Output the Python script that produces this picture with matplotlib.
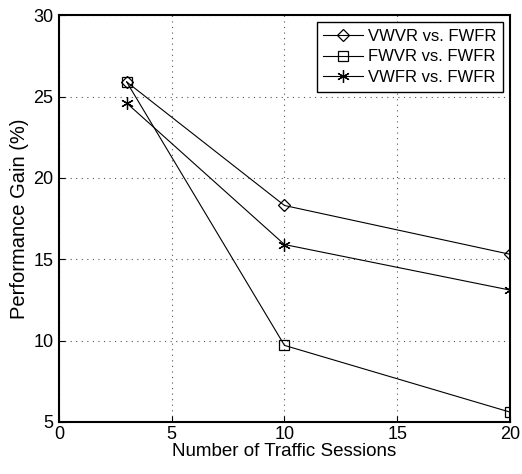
import matplotlib.pyplot as plt

plt.rcParams['font.family'] = ['Liberation Sans', 'DejaVu Sans']

sessions = [3, 10, 20]
vwvr = [25.9, 18.3, 15.3]
fwvr = [25.9, 9.7, 5.6]
vwfr = [24.6, 15.9, 13.1]

fig = plt.figure(figsize=(5.22, 4.74), dpi=100)
ax = fig.add_axes([0.113, 0.110, 0.864, 0.858])

asterisk = (6, 2, 0)
ax.plot(sessions, vwvr, 'k-', marker='D', markersize=6.5, markerfacecolor='none', markeredgewidth=0.9,
        linewidth=0.8, label='VWVR vs. FWFR')
ax.plot(sessions, fwvr, 'k-', marker='s', markersize=7, markerfacecolor='none', markeredgewidth=0.9,
        linewidth=0.8, label='FWVR vs. FWFR')
ax.plot(sessions, vwfr, 'k-', marker=asterisk, markersize=9, markeredgewidth=0.9,
        linewidth=0.8, label='VWFR vs. FWFR')

ax.set_xlim(0, 20)
ax.set_ylim(5, 30)
ax.set_xticks([0, 5, 10, 15, 20])
ax.set_yticks([5, 10, 15, 20, 25, 30])
ax.grid(True, linestyle=(0, (1, 4)), color='#555555', linewidth=0.8)
ax.tick_params(labelsize=13, direction='in', length=4)
ax.tick_params(axis='x', pad=3)
ax.tick_params(axis='y', pad=4)
for s in ax.spines.values():
    s.set_linewidth(1.5)

ax.set_xlabel('Number of Traffic Sessions', fontsize=13.5, labelpad=0)
ax.set_ylabel('Performance Gain (%)', fontsize=14.5, labelpad=3)

leg = ax.legend(loc='upper right', fontsize=12, fancybox=False, edgecolor='black', framealpha=1,
                handlelength=2.4, borderaxespad=0.4, labelspacing=0.35, handletextpad=0.3)
leg.get_frame().set_linewidth(1.0)

fig.savefig('out.png', dpi=100)
